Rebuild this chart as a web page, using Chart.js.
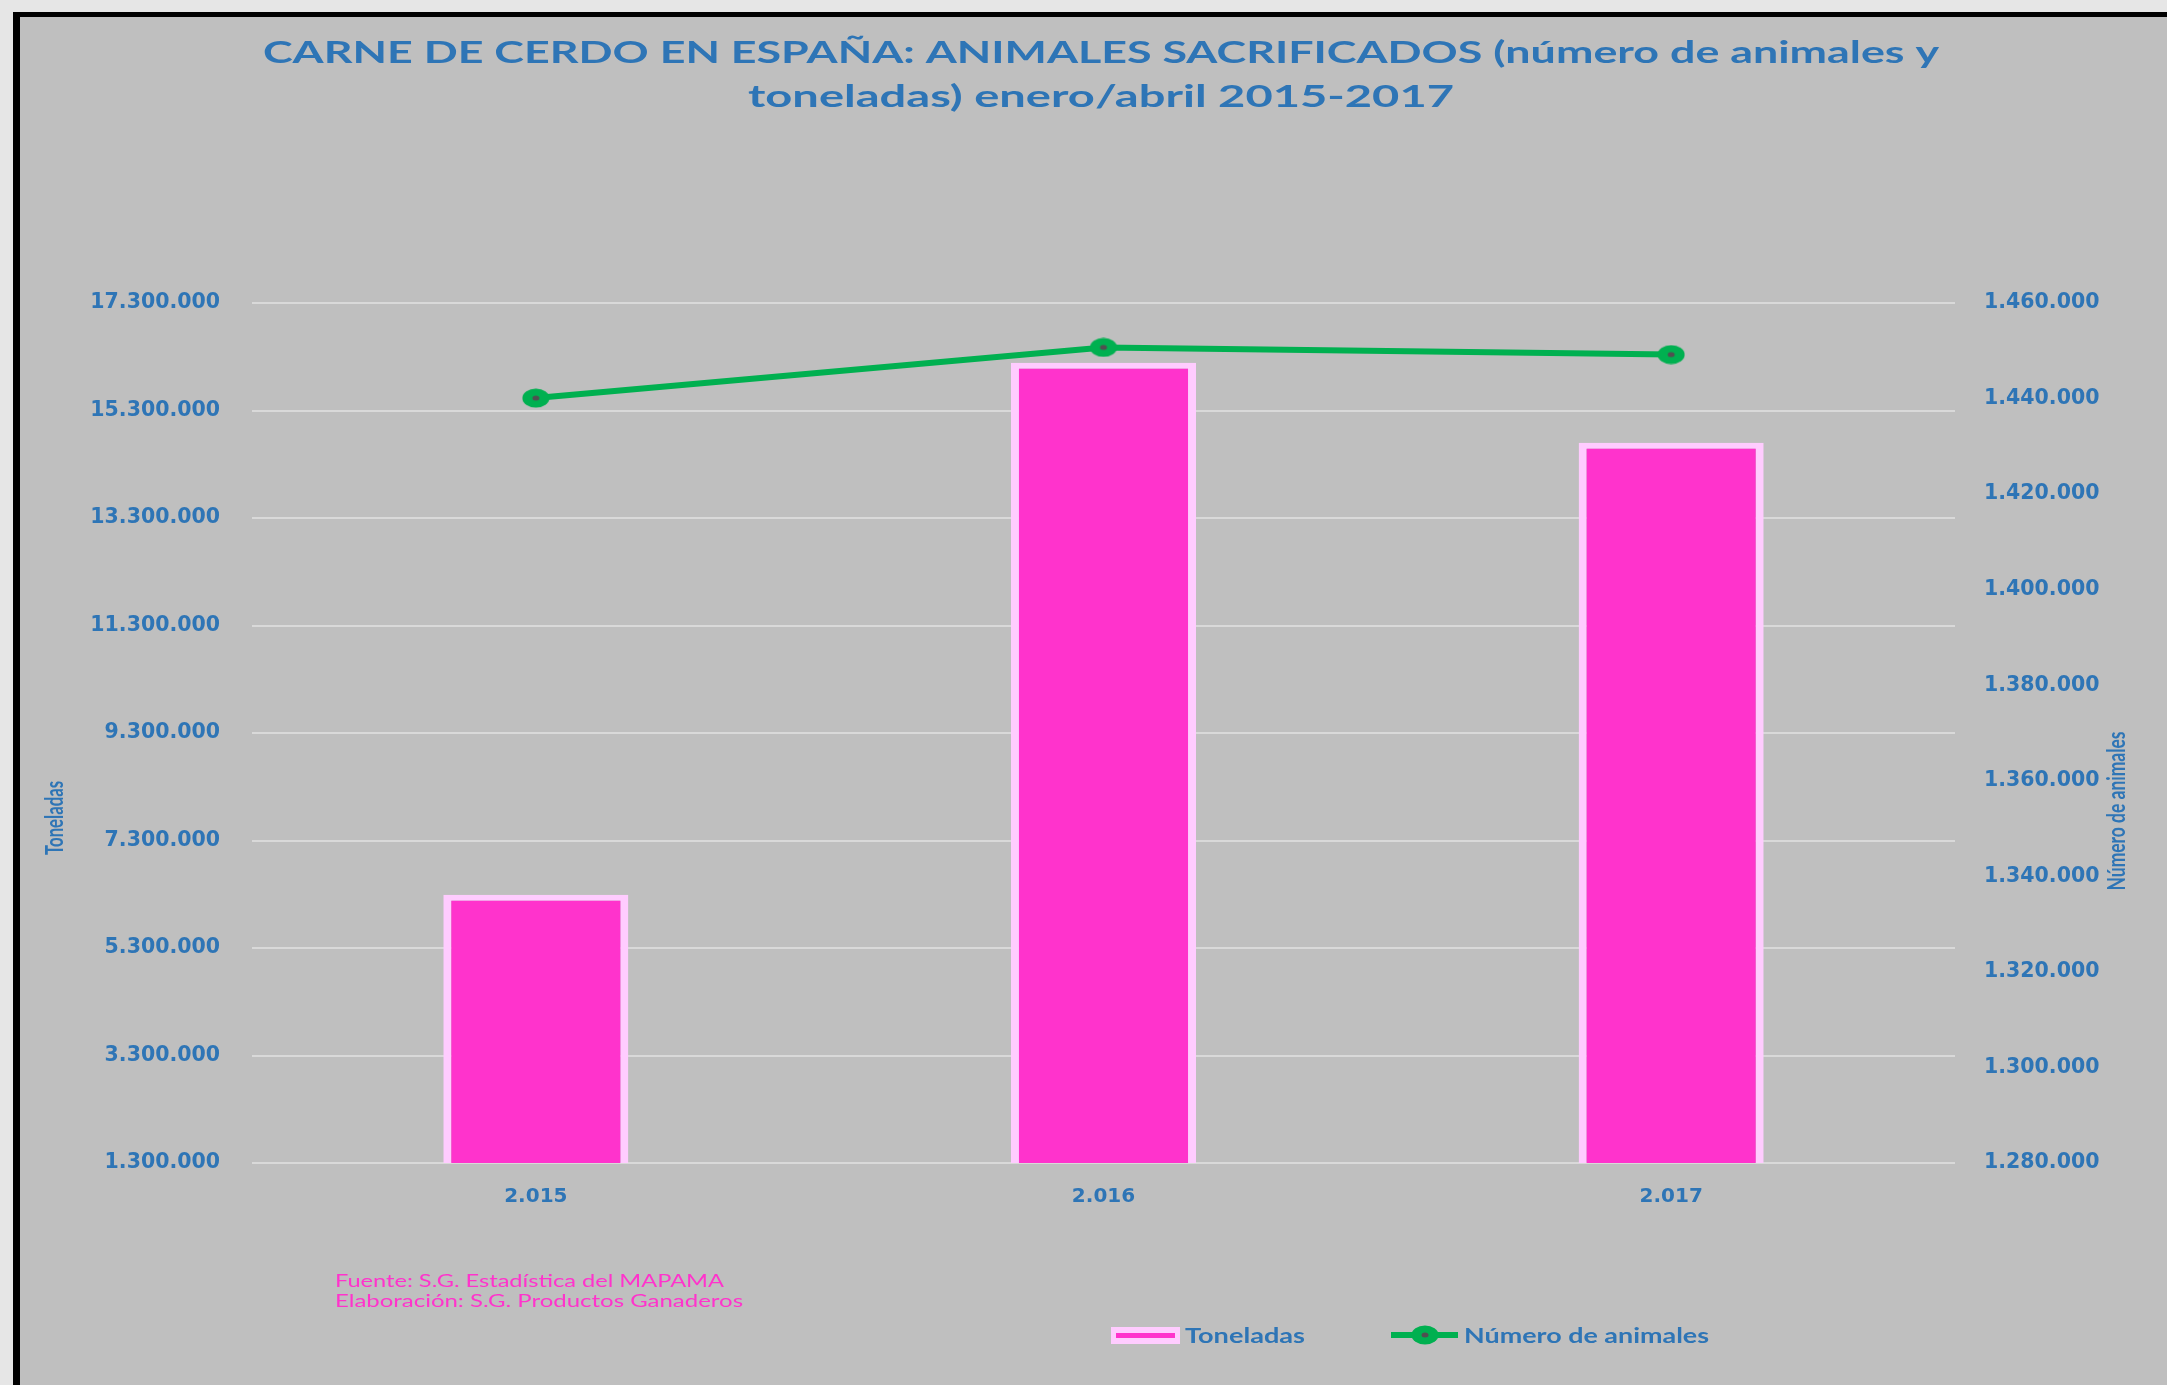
<!DOCTYPE html>
<html lang="es">
<head>
<meta charset="utf-8">
<title>Carne de cerdo en España</title>
<script src="https://cdn.jsdelivr.net/npm/chart.js@4/dist/chart.umd.min.js"></script>
<style>
    html, body { margin: 0; padding: 0; background: #e6e6e6; overflow: hidden; }
    #frame {
        position: absolute; left: 13px; top: 12px; width: 2160px; height: 1380px;
        background: #bfbfbf; border-left: 7px solid #000; border-top: 5px solid #000;
    }
    #chartContainer { position: absolute; left: 0; top: 0; width: 2167px; height: 1385px; }
</style>
</head>
<body>
<div id="frame"></div>
<div id="chartContainer"><canvas id="myChart"></canvas></div>
<script>
var categories = ["2.015", "2.016", "2.017"];
var toneladas = [6290000, 16190000, 14700000];
var numeroAnimales = [1440100, 1450700, 1449200];
var toneladasTicks = [1300000, 3300000, 5300000, 7300000, 9300000, 11300000, 13300000, 15300000, 17300000];
var animalesTicks = [1280000, 1300000, 1320000, 1340000, 1360000, 1380000, 1400000, 1420000, 1440000, 1460000];
var titleLines = ["CARNE DE CERDO EN ESPAÑA: ANIMALES SACRIFICADOS (número de animales y", "toneladas) enero/abril 2015-2017"];
var sourceLines = ["Fuente: S.G. Estadística del MAPAMA", "Elaboración: S.G. Productos Ganaderos"];

var BLUE = "#2E75B6";
var GREEN = "#00B050";
var MAGENTA = "#FF33CC";
var LIGHT_PINK = "#FFCCFF";

function miles(v) {
    return String(v).replace(/\B(?=(\d{3})+(?!\d))/g, ".");
}

// marker: the original chart is stretched sideways, so the dots are ellipses
var marker = document.createElement("canvas");
marker.width = 28;
marker.height = 20;
(function () {
    var m = marker.getContext("2d");
    m.fillStyle = GREEN;
    m.beginPath();
    m.ellipse(14, 10, 13.5, 9.5, 0, 0, Math.PI * 2);
    m.fill();
    m.fillStyle = "#505050";
    m.beginPath();
    m.ellipse(14, 10, 3.5, 2.5, 0, 0, Math.PI * 2);
    m.fill();
})();

// text squeezed/stretched to a given width (x,y = anchor on baseline)
function drawText(ctx, text, x, y, width, font, color, align, rotate) {
    ctx.save();
    ctx.font = font;
    ctx.fillStyle = color;
    ctx.textAlign = align;
    ctx.textBaseline = "alphabetic";
    var w = ctx.measureText(text).width;
    ctx.translate(x, y);
    if (rotate) ctx.rotate(-Math.PI / 2);
    ctx.scale(width / w, 1);
    ctx.fillText(text, 0, 0);
    ctx.restore();
}

var textos = {
    id: "textos",
    afterDraw: function (chart) {
        var ctx = chart.ctx;
        var ds = chart.data.datasets;
        drawText(ctx, titleLines[0], 1101, 63, 1676, "bold 30px Lato", BLUE, "center");
        drawText(ctx, titleLines[1], 1101, 107, 706, "bold 30px Lato", BLUE, "center");

        drawText(ctx, "Toneladas", 63, 818, 74, "bold 24px Lato", BLUE, "center", true);
        drawText(ctx, "Número de animales", 2125, 811, 159, "bold 24px Lato", BLUE, "center", true);

        drawText(ctx, sourceLines[0], 335, 1287, 389, "17px Lato", MAGENTA, "left");
        drawText(ctx, sourceLines[1], 335, 1307, 408, "17px Lato", MAGENTA, "left");

        // legend
        ctx.save();
        ctx.fillStyle = LIGHT_PINK;
        ctx.fillRect(1111, 1327, 69, 17);
        ctx.fillStyle = MAGENTA;
        ctx.fillRect(1116, 1333, 59, 5);
        ctx.strokeStyle = GREEN;
        ctx.lineWidth = 6;
        ctx.beginPath();
        ctx.moveTo(1391, 1335);
        ctx.lineTo(1458, 1335);
        ctx.stroke();
        ctx.drawImage(marker, 1425 - 14, 1335 - 10);
        ctx.restore();
        drawText(ctx, ds[1].label, 1185, 1343, 120, "bold 20px Lato", BLUE, "left");
        drawText(ctx, ds[0].label, 1464, 1343, 245, "bold 20px Lato", BLUE, "left");
    }
};

document.addEventListener("DOMContentLoaded", function () {
    var ctx = document.getElementById("myChart").getContext("2d");
    // eslint-disable-next-line no-undef,no-new
    new Chart(ctx, {
        type: "bar",
        data: {
            labels: categories,
            datasets: [
                {
                    type: "line",
                    label: "Número de animales",
                    data: numeroAnimales,
                    yAxisID: "y1",
                    borderColor: GREEN,
                    borderWidth: 6,
                    pointStyle: marker,
                    pointRadius: 10,
                    order: 0,
                },
                {
                    type: "bar",
                    label: "Toneladas",
                    data: toneladas,
                    yAxisID: "y",
                    backgroundColor: MAGENTA,
                    borderColor: LIGHT_PINK,
                    borderWidth: { top: 6, left: 8, right: 8, bottom: 3 },
                    borderSkipped: false,
                    categoryPercentage: 1,
                    barPercentage: 0.326,
                    order: 1,
                },
            ],
        },
        options: {
            responsive: true,
            maintainAspectRatio: false,
            animation: false,
            events: [],
            layout: { padding: { top: 303, left: 0, right: 0, bottom: 0 } },
            plugins: {
                legend: { display: false },
                title: { display: false },
                tooltip: { enabled: false },
            },
            scales: {
                x: {
                    grid: { display: false },
                    border: { display: false },
                    ticks: {
                        color: BLUE,
                        padding: 14,
                        font: { family: "'DejaVu Sans'", size: 20, weight: "bold" },
                    },
                    afterFit: function (scale) { scale.height = 222; },
                },
                y: {
                    position: "left",
                    min: toneladasTicks[0],
                    max: toneladasTicks[toneladasTicks.length - 1],
                    afterBuildTicks: function (scale) {
                        scale.ticks = toneladasTicks.map(function (v) { return { value: v }; });
                    },
                    grid: { color: "#D9D9D9", lineWidth: 2, drawTicks: false },
                    border: { display: false },
                    ticks: {
                        color: BLUE,
                        padding: 32,
                        font: { family: "'DejaVu Sans'", size: 20.5, weight: "bold" },
                        callback: function (v) { return miles(v); },
                    },
                    afterFit: function (scale) { scale.width = 252; },
                },
                y1: {
                    position: "right",
                    min: animalesTicks[0],
                    max: animalesTicks[animalesTicks.length - 1],
                    afterBuildTicks: function (scale) {
                        scale.ticks = animalesTicks.map(function (v) { return { value: v }; });
                    },
                    grid: { drawOnChartArea: false, drawTicks: false },
                    border: { display: false },
                    ticks: {
                        color: BLUE,
                        padding: 29,
                        font: { family: "'DejaVu Sans'", size: 20.5, weight: "bold" },
                        callback: function (v) { return miles(v); },
                    },
                    afterFit: function (scale) { scale.width = 212; },
                },
            },
        },
        plugins: [textos],
    });
});
</script>
</body>
</html>
